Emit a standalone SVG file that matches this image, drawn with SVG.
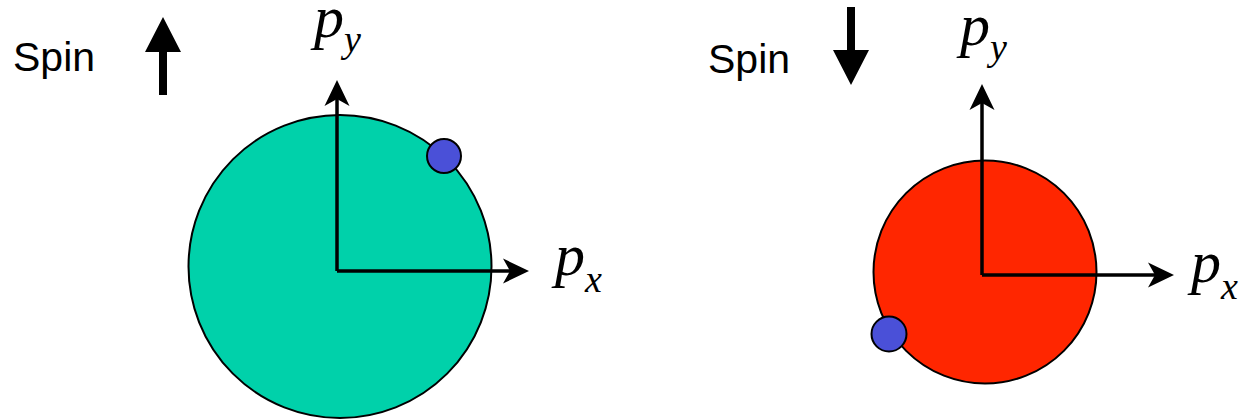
<svg xmlns="http://www.w3.org/2000/svg" width="1239" height="419" viewBox="0 0 1239 419">
<style>
.lbl{font-family:"Liberation Sans",Arial,sans-serif;font-size:41px;fill:#000}
.math{font-family:"Liberation Serif","Times New Roman",serif;font-style:italic;fill:#000}
.main{font-size:60px}
.sub{font-size:38px}
.axis{stroke:#000;stroke-width:3.5;fill:none;marker-end:url(#ah)}
.disk{stroke:#000;stroke-width:2}
.dot{fill:#4A50D8;stroke:#000;stroke-width:2}
</style>
<defs>
<marker id="ah" markerUnits="userSpaceOnUse" viewBox="-8 -14 28 28" refX="0" refY="0" markerWidth="28" markerHeight="28" orient="auto">
<path d="M19,0 L-7,-12.5 L0,0 L-7,12.5 Z" fill="#000"/>
</marker>
</defs>
<g id="spin-up">
<text class="lbl" x="13" y="71">Spin</text>
<polygon points="163,17 181,52 167,52 167,95 159,95 159,52 145,52" fill="#000"/>
</g>
<g id="spin-down">
<text class="lbl" x="708" y="73">Spin</text>
<polygon points="847,7 855,7 855,50 869,50 851,85 833,50 847,50" fill="#000"/>
</g>
<g id="fermi-up">
<circle class="disk" cx="340" cy="266.5" r="151.5" fill="#00D1AA"/>
</g>
<g id="fermi-down">
<circle class="disk" cx="985" cy="272" r="111.5" fill="#FF2600"/>
</g>
<g id="connectors">
<line class="axis" x1="337" y1="271" x2="337" y2="99"/>
<line class="axis" x1="337" y1="271" x2="510" y2="271"/>
<line class="axis" x1="982" y1="275" x2="982" y2="103"/>
<line class="axis" x1="982" y1="275" x2="1155" y2="275"/>
</g>
<g id="electron-up"><circle class="dot" cx="444" cy="156" r="17"/></g>
<g id="electron-down"><circle class="dot" cx="889" cy="334" r="17.5"/></g>
<g id="label-py-left"><text class="math" x="314" y="37"><tspan class="main">p</tspan><tspan class="sub" dy="15">y</tspan></text></g>
<g id="label-px-left"><text class="math" x="555" y="275"><tspan class="main">p</tspan><tspan class="sub" dy="17">x</tspan></text></g>
<g id="label-py-right"><text class="math" x="960" y="45"><tspan class="main">p</tspan><tspan class="sub" dy="15">y</tspan></text></g>
<g id="label-px-right"><text class="math" x="1191" y="282"><tspan class="main">p</tspan><tspan class="sub" dy="17">x</tspan></text></g>
</svg>
